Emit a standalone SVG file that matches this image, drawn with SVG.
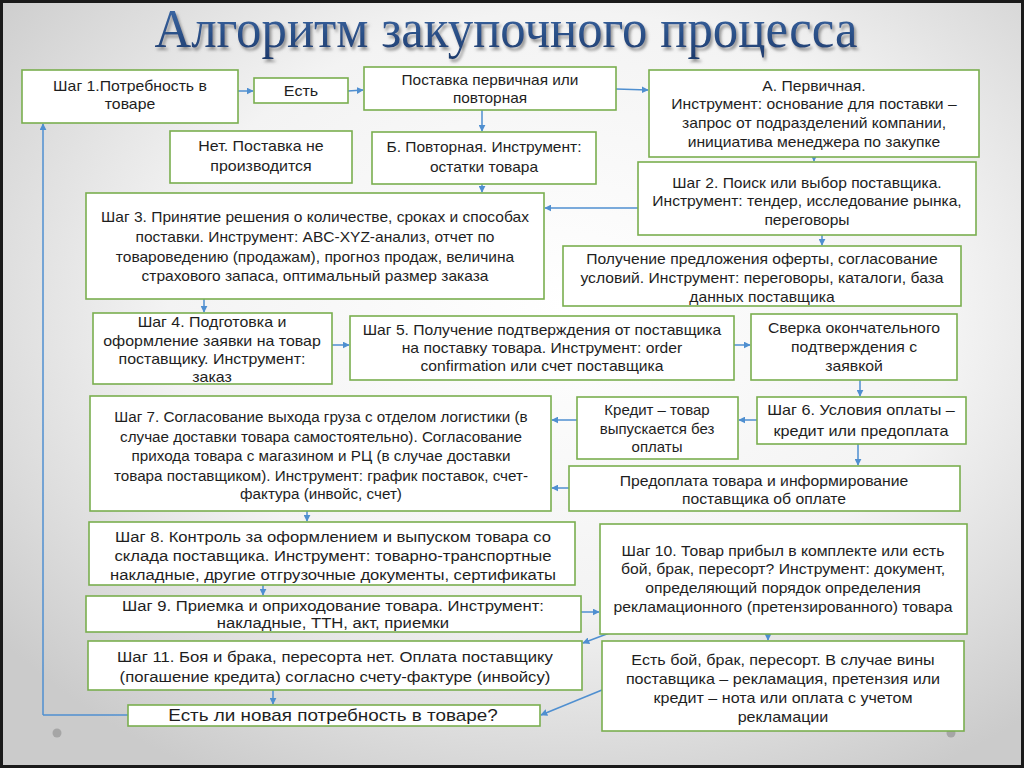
<svg xmlns="http://www.w3.org/2000/svg" width="1024" height="768" viewBox="0 0 1024 768">
<defs>
<radialGradient id="bg" cx="55%" cy="40%" r="70%">
<stop offset="0" stop-color="#ffffff"/>
<stop offset="0.55" stop-color="#f3f3f3"/>
<stop offset="1" stop-color="#cbcbcb"/>
</radialGradient>
<linearGradient id="tg" x1="0" y1="0" x2="0" y2="1">
<stop offset="0" stop-color="#3f6fae"/>
<stop offset="1" stop-color="#1d3a6c"/>
</linearGradient>
<filter id="sh" x="-5%" y="-20%" width="110%" height="150%">
<feDropShadow dx="2" dy="3" stdDeviation="1.5" flood-color="#7a7a7a" flood-opacity="0.8"/>
</filter>
<marker id="ar" viewBox="0 0 10 10" refX="9" refY="5" markerWidth="7" markerHeight="7" markerUnits="userSpaceOnUse" orient="auto">
<path d="M0,0 L10,5 L0,10 z" fill="#4f8fd0"/>
</marker>
<style>
.bx{fill:#ffffff;stroke:#7aae4f;stroke-width:1.6}
.t{font-family:"Liberation Sans",Arial,sans-serif;font-size:14px;fill:#1e1e1e;text-anchor:middle}
.f15{font-size:15px}
.f16{font-size:16px}
.c{fill:none;stroke:#4f8fd0;stroke-width:1.5;marker-end:url(#ar)}
.ln{fill:none;stroke:#4f8fd0;stroke-width:1.5}
</style>
</defs>
<rect x="0" y="0" width="1024" height="768" fill="url(#bg)"/>
<rect x="1.5" y="1.5" width="1021" height="765" fill="none" stroke="#1a1a1a" stroke-width="3"/>
<circle cx="57" cy="733" r="4.5" fill="#a6a6a6"/>
<circle cx="951" cy="733" r="4.5" fill="#a6a6a6"/>
<text x="506" y="47" font-family="Liberation Serif,'Times New Roman',serif" font-size="54" fill="url(#tg)" text-anchor="middle" textLength="703" lengthAdjust="spacingAndGlyphs" filter="url(#sh)">Алгоритм закупочного процесса</text>

<g id="connectors">
<path class="c" d="M238,91 L253,91"/>
<path class="c" d="M348,91 L363,90"/>
<path class="c" d="M616,89 L648,90"/>
<path class="c" d="M482,110 L482,131"/>
<path class="c" d="M482,184 L482,192"/>
<path class="c" d="M814,157 L814,161"/>
<path class="c" d="M638,208 L545,208"/>
<path class="c" d="M822,235 L822,245"/>
<path class="c" d="M204,299 L204,312"/>
<path class="c" d="M332,345 L349,345"/>
<path class="c" d="M734,345 L750,345"/>
<path class="c" d="M860,380 L860,396"/>
<path class="c" d="M757,420 L739,420"/>
<path class="c" d="M577,420 L552,420"/>
<path class="c" d="M858,444 L858,465"/>
<path class="c" d="M569,488 L552,488"/>
<path class="c" d="M307,511 L307,521"/>
<path class="c" d="M263,585 L263,595"/>
<path class="c" d="M581,612 L599,612"/>
<path class="c" d="M612,632 L583,643"/>
<path class="c" d="M768,634 L768,640"/>
<path class="c" d="M602,690 L541,715"/>
<path class="c" d="M273,690 L273,704"/>
<path class="ln" d="M128,715 L43,715"/>
<path class="c" d="M43,715 L43,124"/>
</g>

<g id="n1"><rect class="bx" x="22" y="70" width="216" height="53"/><text class="t" transform="translate(130,0) scale(1.13,1)"><tspan x="0" y="91">Шаг 1.Потребность в</tspan><tspan x="0" y="109">товаре</tspan></text></g>
<g id="n-est"><rect class="bx" x="254" y="78" width="94" height="25"/><text class="t" transform="translate(301,0) scale(1.15,1)" x="0" y="96">Есть</text></g>
<g id="n-postavka"><rect class="bx" x="364" y="67" width="252" height="43"/><text class="t" transform="translate(490,0) scale(1.1,1)"><tspan x="0" y="85">Поставка первичная или</tspan><tspan x="0" y="103">повторная</tspan></text></g>
<g id="n-a"><rect class="bx" x="649" y="70" width="330" height="87"/><text class="t" transform="translate(814,0) scale(1.12,1)"><tspan x="0" y="91">А. Первичная.</tspan><tspan x="0" y="109">Инструмент: основание для поставки –</tspan><tspan x="0" y="128">запрос от подразделений компании,</tspan><tspan x="0" y="147">инициатива менеджера по закупке</tspan></text></g>
<g id="n-net"><rect class="bx" x="170" y="131" width="182" height="52"/><text class="t" transform="translate(261,0) scale(1.14,1)"><tspan x="0" y="151">Нет. Поставка не</tspan><tspan x="0" y="171">производится</tspan></text></g>
<g id="n-b"><rect class="bx" x="372" y="132" width="224" height="52"/><text class="t" transform="translate(484,0) scale(1.11,1)"><tspan x="0" y="152">Б. Повторная. Инструмент:</tspan><tspan x="0" y="172">остатки товара</tspan></text></g>
<g id="n2"><rect class="bx" x="638" y="162" width="338" height="73"/><text class="t" transform="translate(807,0) scale(1.115,1)"><tspan x="0" y="188">Шаг 2. Поиск или выбор поставщика.</tspan><tspan x="0" y="206">Инструмент: тендер, исследование рынка,</tspan><tspan x="0" y="225">переговоры</tspan></text></g>
<g id="n3"><rect class="bx" x="86" y="193" width="458" height="106"/><text class="t" transform="translate(315,0) scale(1.11,1)"><tspan x="0" y="222">Шаг 3. Принятие решения о количестве, сроках и способах</tspan><tspan x="0" y="242">поставки. Инструмент: ABC-XYZ-анализ, отчет по</tspan><tspan x="0" y="262">товароведению (продажам), прогноз продаж, величина</tspan><tspan x="0" y="281">страхового запаса, оптимальный размер заказа</tspan></text></g>
<g id="n-oferta"><rect class="bx" x="563" y="246" width="398" height="60"/><text class="t" transform="translate(762,0) scale(1.12,1)"><tspan x="0" y="264">Получение предложения оферты, согласование</tspan><tspan x="0" y="283">условий. Инструмент: переговоры, каталоги, база</tspan><tspan x="0" y="302">данных поставщика</tspan></text></g>
<g id="n4"><rect class="bx" x="93" y="313" width="239" height="71"/><text class="t" transform="translate(212,0) scale(1.14,1)"><tspan x="0" y="327">Шаг 4. Подготовка и</tspan><tspan x="0" y="346">оформление заявки на товар</tspan><tspan x="0" y="364">поставщику. Инструмент:</tspan><tspan x="0" y="382">заказ</tspan></text></g>
<g id="n5"><rect class="bx" x="350" y="316" width="384" height="64"/><text class="t" transform="translate(542,0) scale(1.12,1)"><tspan x="0" y="335">Шаг 5. Получение подтверждения от поставщика</tspan><tspan x="0" y="353">на поставку товара. Инструмент: order</tspan><tspan x="0" y="371">confirmation или счет поставщика</tspan></text></g>
<g id="n-sverka"><rect class="bx" x="751" y="314" width="206" height="66"/><text class="t" transform="translate(854,0) scale(1.13,1)"><tspan x="0" y="333">Сверка окончательного</tspan><tspan x="0" y="352">подтверждения с</tspan><tspan x="0" y="371">заявкой</tspan></text></g>
<g id="n-kredit"><rect class="bx" x="577" y="397" width="161" height="62"/><text class="t f15" transform="translate(657,0) scale(1.0,1)"><tspan x="0" y="415">Кредит – товар</tspan><tspan x="0" y="434">выпускается без</tspan><tspan x="0" y="452">оплаты</tspan></text></g>
<g id="n6"><rect class="bx" x="757" y="397" width="209" height="47"/><text class="t f15" transform="translate(861,0) scale(1.08,1)"><tspan x="0" y="415">Шаг 6. Условия оплаты –</tspan><tspan x="0" y="436">кредит или предоплата</tspan></text></g>
<g id="n7"><rect class="bx" x="90" y="396" width="461" height="115"/><text class="t f15" transform="translate(321,0) scale(1.015,1)"><tspan x="0" y="422">Шаг 7. Согласование выхода груза с отделом логистики (в</tspan><tspan x="0" y="442">случае доставки товара самостоятельно). Согласование</tspan><tspan x="0" y="461">прихода товара с магазином и РЦ (в случае доставки</tspan><tspan x="0" y="481">товара поставщиком). Инструмент: график поставок, счет-</tspan><tspan x="0" y="499">фактура (инвойс, счет)</tspan></text></g>
<g id="n-predoplata"><rect class="bx" x="569" y="466" width="391" height="45"/><text class="t" transform="translate(764,0) scale(1.125,1)"><tspan x="0" y="486">Предоплата товара и информирование</tspan><tspan x="0" y="504">поставщика об оплате</tspan></text></g>
<g id="n8"><rect class="bx" x="89" y="522" width="486" height="63"/><text class="t f15" transform="translate(333,0) scale(1.11,1)"><tspan x="0" y="542">Шаг 8. Контроль за оформлением и выпуском товара со</tspan><tspan x="0" y="561">склада поставщика. Инструмент: товарно-транспортные</tspan><tspan x="0" y="580">накладные, другие отгрузочные документы, сертификаты</tspan></text></g>
<g id="n10"><rect class="bx" x="600" y="524" width="367" height="110"/><text class="t" transform="translate(783,0) scale(1.125,1)"><tspan x="0" y="556">Шаг 10. Товар прибыл в комплекте или есть</tspan><tspan x="0" y="574">бой, брак, пересорт? Инструмент: документ,</tspan><tspan x="0" y="593">определяющий порядок определения</tspan><tspan x="0" y="612">рекламационного (претензированного) товара</tspan></text></g>
<g id="n9"><rect class="bx" x="86" y="596" width="495" height="36"/><text class="t f15" transform="translate(333,0) scale(1.11,1)"><tspan x="0" y="611">Шаг 9. Приемка и оприходование товара. Инструмент:</tspan><tspan x="0" y="628">накладные, ТТН, акт, приемки</tspan></text></g>
<g id="n11"><rect class="bx" x="88" y="641" width="494" height="49"/><text class="t f15" transform="translate(335,0) scale(1.115,1)"><tspan x="0" y="662">Шаг 11. Боя и брака, пересорта нет. Оплата поставщику</tspan><tspan x="0" y="682">(погашение кредита) согласно счету-фактуре (инвойсу)</tspan></text></g>
<g id="n-boy"><rect class="bx" x="602" y="641" width="362" height="90"/><text class="t" transform="translate(783,0) scale(1.15,1)"><tspan x="0" y="665">Есть бой, брак, пересорт. В случае вины</tspan><tspan x="0" y="684">поставщика – рекламация, претензия или</tspan><tspan x="0" y="703">кредит – нота или оплата с учетом</tspan><tspan x="0" y="722">рекламации</tspan></text></g>
<g id="n-new"><rect class="bx" x="128" y="705" width="412" height="21"/><text class="t f16" transform="translate(333,0) scale(1.18,1)" x="0" y="721">Есть ли новая потребность в товаре?</text></g>
</svg>
